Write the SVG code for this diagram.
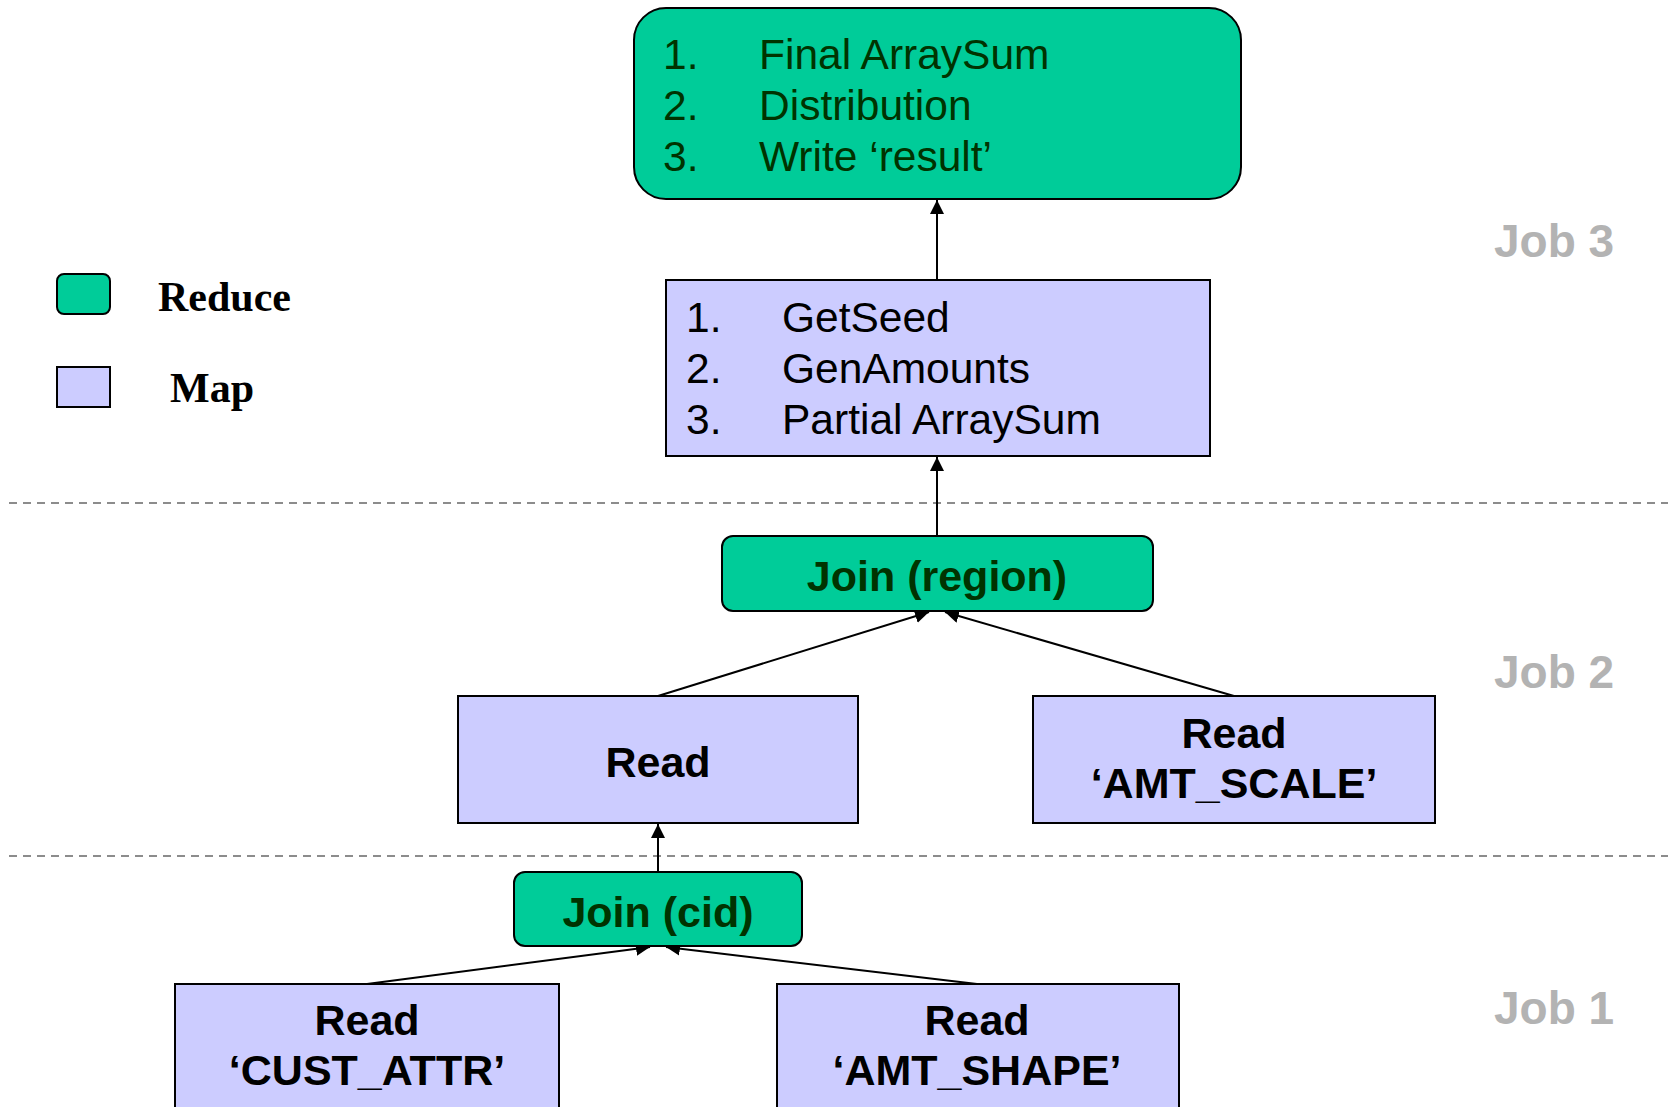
<svg xmlns="http://www.w3.org/2000/svg" width="1677" height="1107" viewBox="0 0 1677 1107">
<style>
.reduce{fill:#00CC99;stroke:#000;stroke-width:2}
.map{fill:#CCCCFF;stroke:#000;stroke-width:2}
.list{font-family:"Liberation Sans",Arial,sans-serif;font-size:42.5px}
.lr{fill:#003300}
.lm{fill:#000}
.bold{font-family:"Liberation Sans",Arial,sans-serif;font-size:43px;font-weight:bold;text-anchor:middle}
.job{font-family:"Liberation Sans",Arial,sans-serif;font-size:46px;font-weight:bold;fill:#B3B3B3}
.leg{font-family:"Liberation Serif","Times New Roman",serif;font-size:42px;font-weight:bold;fill:#000}
.edge{stroke:#000;stroke-width:2;fill:none;marker-end:url(#arr)}
.sep{stroke:#8C8C8C;stroke-width:2;stroke-dasharray:8 6}
</style>
<defs>
<marker id="arr" viewBox="0 0 10 10" refX="10" refY="5" markerWidth="7" markerHeight="7" markerUnits="strokeWidth" orient="auto">
<path d="M0,0 L10,5 L0,10 z" fill="#000"/>
</marker>
</defs>
<rect width="1677" height="1107" fill="#fff"/>
<g id="separators">
<line class="sep" x1="9" y1="503" x2="1668" y2="503"/>
<line class="sep" x1="9" y1="856" x2="1668" y2="856"/>
</g>
<g id="legend">
<rect class="reduce" x="57" y="274" width="53" height="40" rx="7"/>
<text class="leg" x="158" y="311">Reduce</text>
<rect class="map" x="57" y="367" width="53" height="40"/>
<text class="leg" x="170" y="402">Map</text>
</g>
<g id="job-labels">
<text class="job" x="1494" y="257">Job 3</text>
<text class="job" x="1494" y="688">Job 2</text>
<text class="job" x="1494" y="1024">Job 1</text>
</g>
<g id="connectors">
<line class="edge" x1="937" y1="280" x2="937" y2="200"/>
<line class="edge" x1="937" y1="536" x2="937" y2="457"/>
<line class="edge" x1="658" y1="696" x2="929" y2="612"/>
<line class="edge" x1="1234" y1="696" x2="945" y2="612"/>
<line class="edge" x1="658" y1="872" x2="658" y2="824"/>
<line class="edge" x1="367" y1="984" x2="650" y2="947"/>
<line class="edge" x1="977" y1="984" x2="666" y2="947"/>
</g>
<g id="final">
<rect class="reduce" x="634" y="8" width="607" height="191" rx="32"/>
<text class="list lr"><tspan x="663" y="69">1.</tspan><tspan x="759" y="69">Final ArraySum</tspan><tspan x="663" y="120">2.</tspan><tspan x="759" y="120">Distribution</tspan><tspan x="663" y="171">3.</tspan><tspan x="759" y="171">Write ‘result’</tspan></text>
</g>
<g id="mapgen">
<rect class="map" x="666" y="280" width="544" height="176"/>
<text class="list lm"><tspan x="686" y="332">1.</tspan><tspan x="782" y="332">GetSeed</tspan><tspan x="686" y="383">2.</tspan><tspan x="782" y="383">GenAmounts</tspan><tspan x="686" y="434">3.</tspan><tspan x="782" y="434">Partial ArraySum</tspan></text>
</g>
<g id="join-region">
<rect class="reduce" x="722" y="536" width="431" height="75" rx="11"/>
<text class="bold lr" x="937" y="591">Join (region)</text>
</g>
<g id="read">
<rect class="map" x="458" y="696" width="400" height="127"/>
<text class="bold lm" x="658" y="777">Read</text>
</g>
<g id="read-amt-scale">
<rect class="map" x="1033" y="696" width="402" height="127"/>
<text class="bold lm" x="1234" y="748">Read</text>
<text class="bold lm" x="1234" y="798">‘AMT_SCALE’</text>
</g>
<g id="join-cid">
<rect class="reduce" x="514" y="872" width="288" height="74" rx="11"/>
<text class="bold lr" x="658" y="927">Join (cid)</text>
</g>
<g id="read-cust-attr">
<rect class="map" x="175" y="984" width="384" height="130"/>
<text class="bold lm" x="367" y="1035">Read</text>
<text class="bold lm" x="367" y="1085">‘CUST_ATTR’</text>
</g>
<g id="read-amt-shape">
<rect class="map" x="777" y="984" width="402" height="130"/>
<text class="bold lm" x="977" y="1035">Read</text>
<text class="bold lm" x="977" y="1085">‘AMT_SHAPE’</text>
</g>
</svg>
